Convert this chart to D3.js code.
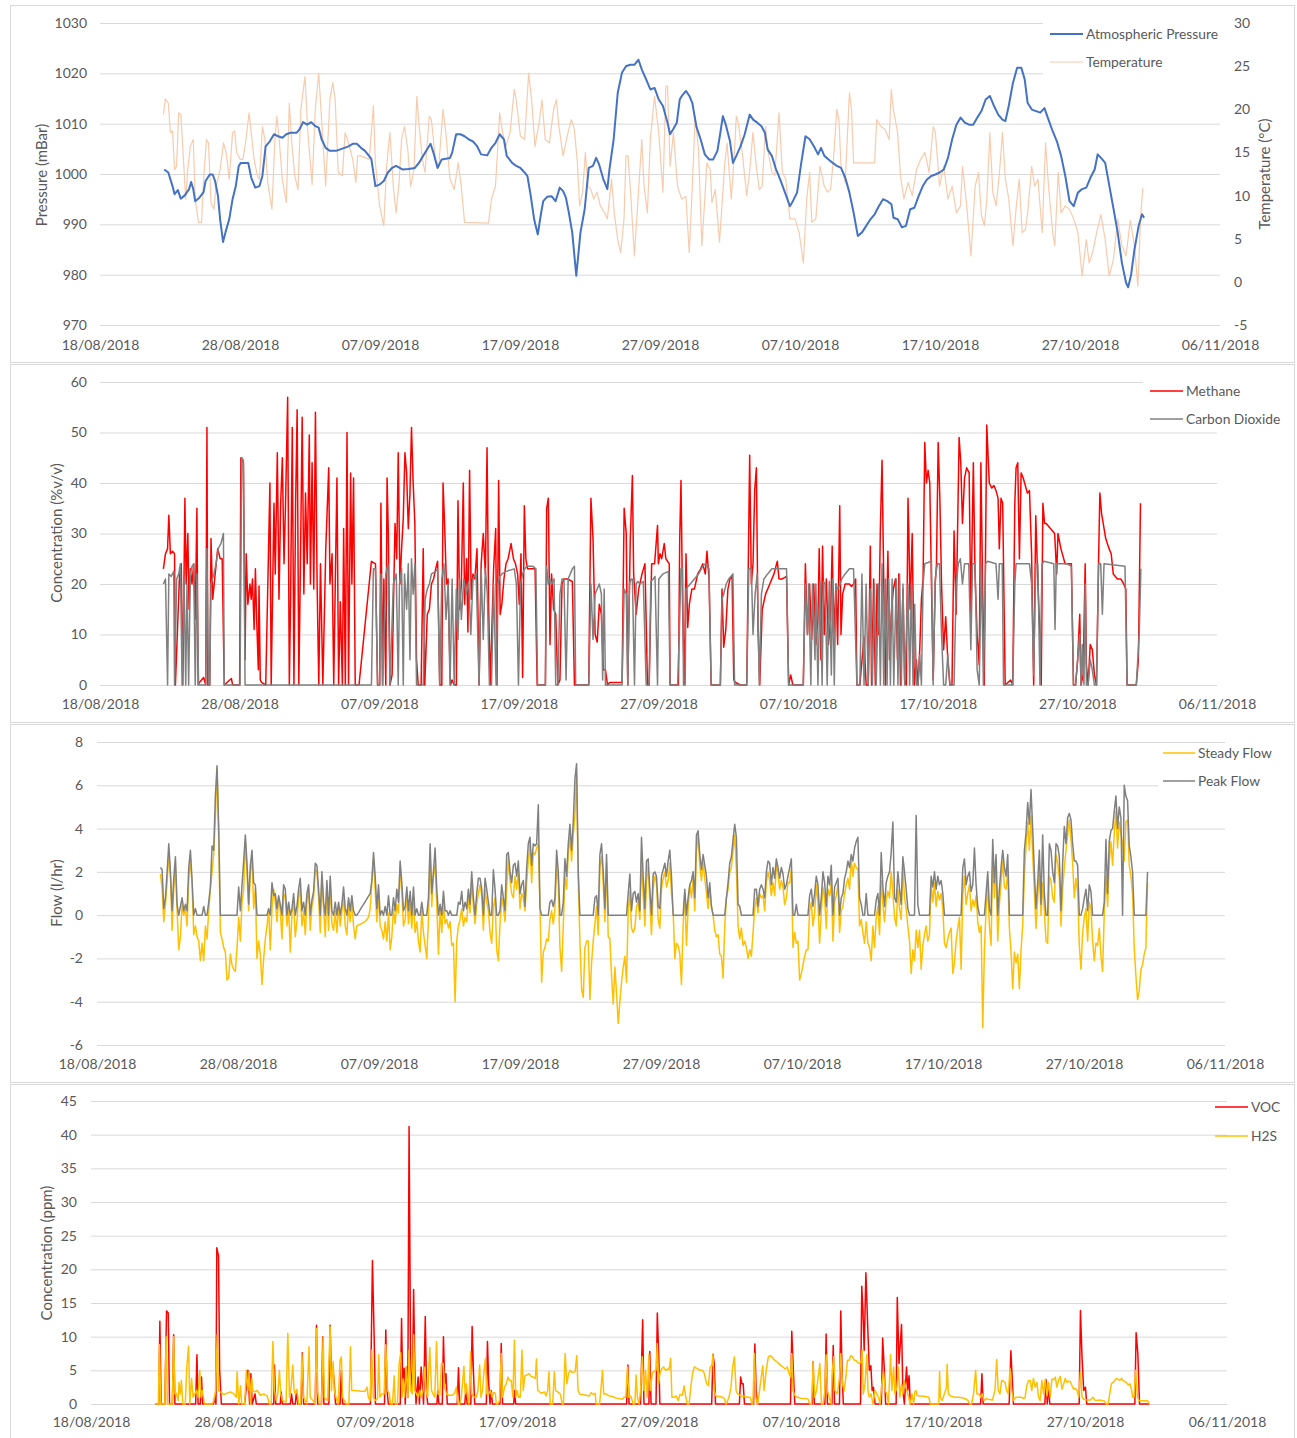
<!DOCTYPE html>
<html>
<head>
<meta charset="utf-8">
<title>Ground gas monitoring, 22/08/2018 to 01/11/2018</title>
<script src="https://cdn.jsdelivr.net/npm/d3@7"></script>
<style>
  body { margin: 0; background: #ffffff; }
  svg text { font-family: Lato, "Open Sans", "Liberation Sans", sans-serif; fill: #595959; }
</style>
</head>
<body>
<svg id="chart" width="1297" height="1438"></svg>
<script>
// Time is stored as days after 18/08/2018 00:00.
const DAY0 = Date.UTC(2018, 7, 18);
const dateTicks = [0, 10, 20, 30, 40, 50, 60, 70, 80];

// ---- Panel 1: atmospheric pressure (mBar) and temperature (°C) ----
const pressureTicks = [970, 980, 990, 1000, 1010, 1020, 1030];
const temperatureTicks = [-5, 0, 5, 10, 15, 20, 25, 30];
const pressure = [
[4.59,1000.9],[4.88,1000.3],[5.18,997.6],[5.33,996],[5.56,996.8],[5.77,995.1],[6.07,995.8],[6.36,997],[6.51,998.4],[6.66,997],[6.80,994.6],[7.10,995.3],[7.40,996.4],[7.54,998.6],[7.84,999.9],[8.05,999.9],[8.22,998.6],[8.43,995.6],[8.58,991],[8.79,986.5],[9.02,989],[9.23,991],[9.47,995],[9.70,997.6],[9.91,1001.6],[10.06,1002.2],[10.59,1002.2],[10.80,999.3],[11.09,997.3],[11.39,997.6],[11.60,999.6],[11.83,1005.5],[12.13,1006.5],[12.43,1007.9],[12.72,1007.5],[13.02,1007.2],[13.31,1007.9],[13.61,1008.2],[14.05,1008.2],[14.26,1008.9],[14.50,1010.3],[14.79,1009.8],[15.09,1010.3],[15.38,1009.5],[15.62,1009.2],[15.83,1006.9],[16.12,1005.2],[16.42,1004.6],[16.86,1004.6],[17.16,1004.9],[17.46,1005.2],[17.75,1005.5],[18.05,1006],[18.34,1006],[18.64,1005.2],[18.93,1004.6],[19.38,1003],[19.67,997.6],[19.97,997.9],[20.27,998.6],[20.56,1000.3],[20.86,1001.2],[21.15,1001.6],[21.60,1000.9],[22.04,1001],[22.49,1001.2],[22.78,1002.2],[23.08,1003.6],[23.37,1004.9],[23.61,1006],[23.82,1004.2],[24.11,1001.2],[24.41,1002.9],[25.00,1003.2],[25.15,1004.2],[25.44,1007.9],[25.74,1007.9],[26.04,1007.5],[26.33,1006.9],[26.63,1006.5],[26.92,1005.6],[27.22,1003.9],[27.66,1003.7],[27.96,1005.2],[28.25,1006.2],[28.55,1007.9],[28.85,1006.9],[29.05,1003.6],[29.44,1002.2],[29.73,1001.6],[30.03,1001.2],[30.33,1000.3],[30.53,999.6],[30.77,995.6],[31.01,991],[31.27,988],[31.51,992.3],[31.66,994.6],[31.95,995.5],[32.25,995.6],[32.54,994.6],[32.84,997.3],[33.08,996.6],[33.28,995.3],[33.49,992.3],[33.73,988.4],[34.02,979.8],[34.32,988.4],[34.62,993],[34.91,1001.2],[35.21,1001.6],[35.44,1003.2],[35.65,1001.9],[35.95,999],[36.24,997],[36.39,1000.9],[36.69,1006.9],[36.98,1016.1],[37.28,1020.1],[37.57,1021.4],[37.87,1021.7],[38.17,1021.7],[38.46,1022.7],
[38.71,1020.7],[39.01,1018.8],[39.31,1016.8],[39.61,1017.1],[39.91,1014.8],[40.21,1013.5],[40.51,1010.5],[40.72,1007.9],[40.96,1009],[41.20,1010.2],[41.41,1014.8],[41.56,1015.5],[41.86,1016.5],[42.10,1015.5],[42.31,1014.1],[42.60,1009.4],[42.90,1006.9],[43.20,1003.9],[43.50,1002.9],[43.80,1002.9],[44.10,1004.6],[44.31,1008.2],[44.49,1011.5],[44.70,1009.8],[45.00,1006.5],[45.21,1002.2],[45.45,1003.6],[45.75,1005.5],[46.05,1007.9],[46.41,1011.8],[46.65,1010.8],[46.95,1010.2],[47.25,1009.5],[47.49,1008.2],[47.69,1004.9],[47.99,1003.6],[48.29,1000.9],[48.59,998.9],[48.89,996.6],[49.10,995],[49.28,993.6],[49.49,994.6],[49.79,996.3],[50.09,1002.2],[50.39,1007.5],[50.69,1006.9],[50.99,1005.5],[51.29,1003.9],[51.50,1005.2],[51.74,1003.6],[52.04,1002.9],[52.34,1002.2],[52.63,1001.6],[52.93,1001.2],[53.23,999.3],[53.53,996.3],[53.83,992.3],[54.13,987.7],[54.43,988.4],[54.73,989.7],[55.03,991],[55.33,992],[55.63,993.6],[55.93,995],[56.23,994.6],[56.53,994],[56.68,991.3],[56.98,991],[57.28,989.4],[57.57,989.7],[57.87,993],[58.17,993.3],[58.47,995.6],[58.77,997.6],[59.07,998.9],[59.37,999.6],[59.67,999.9],[59.97,1000.3],[60.27,1000.9],[60.57,1003.2],[60.87,1006.9],[61.17,1009.8],[61.47,1011.2],[61.77,1010.2],[62.07,1009.8],[62.37,1009.8],[62.66,1011.2],[62.96,1012.5],[63.26,1014.8],[63.56,1015.5],[63.86,1013.5],[64.16,1011.8],[64.46,1010.8],[64.67,1010.5],[64.91,1013.5],[65.21,1018.1],[65.51,1021.1],[65.81,1021.1],[66.05,1018.8],[66.26,1014.1],[66.56,1012.8],[66.86,1012.5],[67.16,1012.2],[67.46,1013.1],[67.75,1010.8],[68.05,1008.5],[68.35,1006.5],[68.65,1003.6],[68.95,999.6],[69.25,994.6],[69.55,993.6],[69.85,996.3],[70.15,997],[70.45,997.3],[70.75,999.3],[71.05,1000.9],[71.26,1003.9],[71.50,1003.2],[71.80,1002.2],[72.10,997.6],[72.40,993],[72.69,988.4],[72.99,982.4],[73.29,978.4],[73.44,977.5],[73.65,980],[73.89,985],[74.19,989.7],[74.43,992],[74.58,991.3]
];
const temperature = [
[4.53,19.4],[4.67,21.2],[4.88,20.7],[5.03,17.3],[5.18,17.5],[5.33,13],[5.47,13.4],[5.62,19.6],[5.77,19.4],[5.92,15.4],[6.12,9.6],[6.27,13],[6.45,15.7],[6.66,16.5],[6.80,9.6],[7.04,6.9],[7.25,6.9],[7.40,11.9],[7.60,16.5],[7.75,16.1],[7.93,9.2],[8.14,8.4],[8.28,11.1],[8.43,11.9],[8.58,13],[8.82,16.1],[9.02,14.9],[9.23,11.9],[9.47,17.3],[9.62,17.5],[9.76,15],[10.00,14.2],[10.21,14.2],[10.41,16.3],[10.65,19.6],[10.80,17.3],[11.01,14.2],[11.24,12.3],[11.39,11.9],[11.60,18],[11.78,16.5],[11.98,11.5],[12.28,8.4],[12.49,16.5],[12.63,19.2],[12.78,16.9],[13.02,11.9],[13.31,9.2],[13.52,20.7],[13.70,16.1],[13.91,12.3],[14.14,10.7],[14.35,20],[14.64,23.8],[14.85,17.3],[15.15,11.3],[15.38,20],[15.62,24.2],[15.83,18.8],[16.12,11.1],[16.42,21.1],[16.63,23.1],[16.80,21.1],[17.01,12.7],[17.31,12.3],[17.51,17.3],[17.75,16.1],[18.05,14.2],[18.28,11.5],[18.40,14.6],[18.64,14.6],[19.23,14.2],[19.53,20.4],[19.67,13.8],[19.97,8.8],[20.27,6.5],[20.47,13.4],[20.71,17.3],[20.95,11.1],[21.15,8],[21.36,11.5],[21.54,16.5],[21.75,18],[21.98,15.4],[22.19,11.1],[22.43,13],[22.63,21.5],[22.78,18.4],[23.02,14.2],[23.22,12.7],[23.52,19.2],[23.67,18.8],[23.96,14.2],[24.20,13.4],[24.50,20],[24.70,17.3],[25.00,11.9],[25.30,10.7],[25.59,13.8],[25.80,11.1],[26.04,6.9],[27.75,6.8],[27.96,9.6],[28.25,11.1],[28.55,19.6],[28.76,17.3],[28.99,15.7],[29.29,17.3],[29.59,22.3],[29.73,21.1],[30.03,16.9],[30.33,16.5],[30.62,24.2],[30.83,21.1],[31.07,15.7],[31.36,18.4],[31.57,21.1],[31.80,16.5],[32.10,16.1],[32.40,20],[32.60,21.1],[32.78,18],[33.08,14.6],[33.43,17.3],[33.67,18.8],[33.88,17.7],[34.08,14.2],[34.26,8.8],[34.47,10.4],[34.67,15],[34.85,11.1],[35.06,10.7],[35.27,9.6],[35.50,10.4],[35.74,8.8],[36.04,8],[36.24,7.3],[36.39,9.6],[36.54,11.9],[36.75,7.7],[36.98,4.9],[37.19,3.4],[37.43,7.3],[37.57,14.6],[37.72,14.6],[37.93,9.6],[38.17,3],[38.40,8.8],[38.70,16.5],[38.86,11.1],[39.10,8],[39.31,16.5],[39.61,21.5],[39.91,17.3],[40.21,10.4],[40.42,22.7],[40.54,22.7],[40.72,13.4],[40.96,17.3],[41.25,11.1],[41.55,9.6],[41.85,9.9],[42.09,3.4],[42.30,10.7],[42.51,19.2],[42.75,15.4],[42.99,4.2],[43.20,9.6],[43.35,13.8],[43.59,13],[43.71,9.2],[43.95,10.7],[44.25,4.6],[44.49,10.4],[44.61,13.4],[44.79,16.1],[45.09,9.6],[45.30,14.6],[45.45,19.2],[45.60,18.4],[45.90,14.6],[46.19,10],[46.40,12.7],[46.64,17.3],[46.88,13.4],[47.09,10.7],[47.30,11.1],[47.54,18],[47.69,15.4],[47.99,12.7],[48.20,12.3],[48.50,19.6],[48.74,12.7],[48.98,11.9],[49.28,7.3],[49.64,7.3],[49.94,5.7],[50.24,2.2],[50.48,9.6],[50.69,12.7],[50.84,6.9],[51.13,7.3],[51.43,13.4],[51.73,11.1],[51.97,10.4],[52.18,10.7],[52.39,14.2],[52.63,20],[52.78,18.8],[52.93,13.4],[53.23,11.5],[53.53,21.9],[53.68,20],[53.83,13.8],[55.33,13.8],[55.48,18.8],[55.78,18],[56.07,17.7],[56.37,16.5],[56.52,22.3],[56.67,20],[56.97,17.3],[57.18,12.3],[57.42,9.6],[57.72,11.5],[58.02,10],[58.32,13],[58.62,14.2],[58.92,15],[59.22,12.7],[59.52,18],[59.67,17.3],[59.97,11.1],[60.27,13.4],[60.57,9.6],[60.87,11.1],[61.17,8],[61.46,8.8],[61.61,13.4],[61.91,8.8],[62.21,3],[62.51,11.1],[62.75,12.7],[62.96,7.7],[63.17,6.5],[63.35,9.6],[63.56,17.3],[63.77,10.4],[64.01,8.8],[64.25,12.7],[64.46,17.3],[64.67,11.9],[64.91,9.6],[65.21,4.2],[65.45,8.8],[65.66,11.9],[65.87,5.7],[66.11,6.1],[66.26,8],[66.55,13.4],[66.76,11.1],[67.00,11.9],[67.30,5.7],[67.54,16.1],[67.75,11.1],[68.05,5.7],[68.20,4.2],[68.44,12.7],[68.65,8],[68.95,8.8],[69.25,8.4],[69.55,7.3],[69.85,5.7],[70.15,0.7],[70.45,4.9],[70.66,2.2],[70.90,3.4],[71.19,5.7],[71.49,7.8],[71.79,5],[72.09,0.7],[72.39,2.6],[72.69,7.3],[72.99,4.2],[73.29,3],[73.59,7.1],[73.89,4.2],[74.13,-0.5],[74.34,7.8],[74.49,10.9]
];

// ---- Panel 2: methane and carbon dioxide (%v/v) ----
const gasTicks = [0, 10, 20, 30, 40, 50, 60];
const methane = [
[4.54,23],[4.69,26],[4.84,27],[4.93,33.6],[5.04,26],[5.19,26.5],[5.34,26],[5.40,0],[5.70,22],[5.82,24],[5.93,0],[6.08,37],[6.17,20],[6.29,30],[6.38,15],[6.47,23],[6.59,20],[6.71,24],[6.82,13],[6.94,35],[7.03,0],[7.12,0.5],[7.42,1.5],[7.57,0],[7.66,51],[7.72,0],[7.86,0],[7.95,29],[8.07,17],[8.25,22],[8.43,27],[8.61,25],[8.75,25],[8.90,0],[9.41,1.3],[9.5,0],[10.0,0],[10.09,45],[10.27,44],[10.39,5],[10.47,26],[10.59,16],[10.74,20],[10.83,17],[10.92,21],[11.04,11],[11.13,23],[11.22,13],[11.34,3],[11.39,19.6],[11.48,1],[11.57,0.5],[11.87,0],[12.17,40],[12.26,0],[12.46,36],[12.55,22],[12.70,46],[12.82,17],[12.94,36],[13.06,45],[13.18,24],[13.29,36],[13.44,57],[13.56,0],[13.65,17],[13.77,51],[13.89,0],[14.01,36],[14.12,54.5],[14.24,0],[14.36,25],[14.48,53],[14.60,18],[14.72,38],[14.84,24],[14.99,49.5],[15.07,20],[15.19,44],[15.31,19],[15.43,54],[15.55,20],[15.67,0],[15.79,24],[15.96,0],[16.17,27],[16.38,43],[16.47,20],[16.62,26],[16.74,0],[16.85,20],[16.97,41],[17.09,0],[17.21,16.5],[17.36,0],[17.45,31],[17.57,0],[17.69,50],[17.80,0],[17.95,42],[18.04,20],[18.16,41],[18.28,0],[18.55,0],[19.44,24.5],[19.73,24],[19.88,0],[20.03,0],[20.12,36],[20.24,0],[20.33,21],[20.47,0],[20.56,41],[20.65,30],[20.77,0],[20.92,2],[21.13,32],[21.25,25],[21.36,46],[21.48,20],[21.60,27],[21.72,33],[21.84,46],[21.96,42],[22.08,31],[22.20,38],[22.31,51],[22.43,40],[22.55,32],[22.67,5],[22.79,0],[23.00,0],[23.15,27],[23.26,0],[23.44,14],[23.59,15],[23.74,20],[23.89,21],[24.04,23],[24.18,24.5],[24.33,0],[24.48,0],[24.57,40],[24.69,31],[24.81,20],[24.93,21],[25.01,10],[25.10,0],[25.22,1],[25.37,0],[25.52,0],[25.64,36.5],[25.76,15],[25.88,20],[26.02,40],[26.11,16],[26.26,25],[26.35,10.5],[26.47,42.5],[26.59,17],[26.71,22],[26.85,21],[27.00,27],[27.15,0],[27.30,24],[27.45,30],[27.60,22],[27.72,47],[27.83,16],[27.95,0],[28.19,23],[28.34,31],[28.43,0],[28.55,40.5],[28.66,14],[28.78,16],[28.93,21],[29.08,24],[29.23,25],[29.44,28],[29.61,25],[29.76,24],[29.91,22],[30.03,16],[30.15,26],[30.27,1.5],[30.39,35.5],[30.50,25],[30.62,23],[31.16,23],[31.31,0],[31.9,0],[31.99,35],[32.11,37],[32.23,8],[32.34,22],[32.49,15],[32.64,14],[32.79,0],[32.94,1],[33.09,20],[33.23,21],[33.47,21],[33.83,20.5],[33.98,0],[35.0,0],[35.16,37],[35.31,29],[35.46,10],[35.61,8.5],[35.76,16],[35.91,14],[36.05,3],[36.20,3],[36.35,0],[36.50,0.5],[37.39,0.5],[37.54,35],[37.69,30],[37.80,0],[37.98,29],[38.13,41.5],[38.22,22],[38.40,14],[38.58,19],
[38.82,22],[39.03,24],[39.21,0],[39.33,0],[39.51,24],[39.72,24],[39.93,31.6],[39.99,24],[40.11,26],[40.23,25],[40.41,28],[40.53,25],[40.77,24],[40.83,0],[41.43,0],[41.52,29],[41.61,40.5],[41.73,15],[41.85,0],[41.97,26],[42.09,11.4],[42.21,16],[42.39,19],[42.57,19],[42.81,22],[43.02,23],[43.17,24],[43.35,22],[43.47,26.5],[43.62,21],[43.77,0],[44.43,0],[44.55,19],[44.67,7.5],[44.82,11],[44.97,19],[45.12,21],[45.27,21.5],[45.39,1],[45.51,0.5],[45.87,0],[46.32,0],[46.53,45.5],[46.65,20],[46.77,24],[46.89,38.5],[47.01,43],[47.13,11],[47.25,0],[47.43,15],[47.67,18],[47.97,20],[48.27,22],[48.51,24.5],[48.63,21],[48.87,21],[49.17,21.5],[49.32,0],[49.47,2],[49.62,0],[50.37,0],[50.52,24],[50.67,10],[50.82,20],[50.97,9],[51.12,20],[51.27,8],[51.42,13],[51.51,27],[51.63,5],[51.75,27.5],[51.87,10],[52.02,21],[52.17,8],[52.32,13],[52.44,27.5],[52.56,10],[52.71,20],[52.83,8],[52.98,35.5],[53.07,10],[53.19,18],[53.37,20],[53.67,20],[53.82,19.5],[53.97,20],[54.12,21],[54.21,0],[54.42,0],[54.72,9.5],[54.87,0],[55.02,0],[55.17,27.5],[55.26,0],[55.41,21],[55.53,0],[55.65,20],[55.77,10],[55.89,31],[56.01,44.5],[56.13,21],[56.25,0],[56.43,26.5],[56.55,5],[56.67,14],[56.82,19],[56.97,21],[57.12,5],[57.21,22],[57.33,0],[57.51,19],[57.63,1],[57.75,0],[57.87,37],[57.93,30],[58.02,15],[58.17,30],[58.32,0],[58.47,5],[58.59,0],[58.71,7],[58.83,17],[58.95,21],[59.07,48],[59.19,40],[59.31,42.5],[59.43,40],[59.55,20],[59.67,1],[59.82,20],[59.91,24],[60.03,48],[60.15,37],[60.27,20],[60.42,7],[60.57,13.5],[60.72,5],[60.87,0],[61.02,0],[61.17,30.5],[61.32,14],[61.53,49],[61.65,44],[61.77,32],[61.92,41],[62.07,43],[62.25,42],[62.37,14],[62.55,44],[62.67,22],[62.82,10],[62.97,4],[63.09,44],[63.21,20],[63.33,0],[63.51,51.5],[63.69,40],[63.87,39],[64.02,39.5],[64.17,38.5],[64.32,37],[64.41,27],[64.53,37],[64.65,36],[64.71,24],[64.83,0],[65.22,1],[65.37,0],[65.52,36],[65.61,43],[65.73,44],[65.85,25],[65.97,42],[66.12,41],[66.27,39.5],[66.42,38],[66.57,38.5],[66.72,26],[66.87,0],[67.02,33.5],[67.17,20],[67.32,10],[67.41,0],[67.53,36],[67.65,32],[67.77,32],[68.07,31],[68.37,30],[68.52,22],[68.61,30],[68.82,27],[69.12,24],[69.57,24],[69.72,0],[69.87,0],[70.02,5],[70.17,14],[70.26,0],[70.41,2],[70.56,24],[70.65,4],[70.77,0],[70.92,8],[71.07,7],[71.22,2],[71.37,0],[71.52,25],[71.61,38],[71.73,34],[71.85,32],[72.03,29],[72.27,27],[72.42,26],[72.57,22],[72.87,21],[73.11,21],[73.32,20],[73.47,19],[73.56,0],[74.22,0],[74.37,5],[74.52,36]
];
const carbonDioxide = [
[4.54,20],[4.69,21],[4.84,0],[4.93,22],[5.10,21.5],[5.28,22.5],[5.34,0],[5.49,21],[5.64,22],[5.76,24],[5.88,0],[6.02,21],[6.14,0],[6.23,20],[6.35,0],[6.47,22],[6.59,23.5],[6.71,24],[6.82,0],[6.94,22],[7.06,0],[7.57,0],[7.66,27],[7.77,0],[7.86,0],[7.95,20],[8.16,22],[8.31,24],[8.46,27],[8.66,28],[8.84,30],[8.90,0],[10.03,0],[10.15,45],[10.27,44.5],[10.39,0],[19.44,0],[19.58,23],[19.73,23],[19.88,0],[20.03,0],[20.12,22],[20.24,0],[20.47,22],[20.62,24],[20.77,0],[21.01,20],[21.22,22],[21.36,0],[21.45,20],[21.60,23],[21.72,0],[21.81,22],[21.96,15],[22.08,24],[22.20,5],[22.31,25],[22.43,18],[22.55,24],[22.67,0],[23.15,0],[23.29,17],[23.44,19],[23.59,20],[23.74,22],[24.04,22.5],[24.18,23],[24.33,0],[24.48,21],[24.63,24],[24.78,13],[24.93,20],[25.07,0],[25.22,21],[25.37,0],[25.52,19],[25.64,9],[25.76,21],[25.88,13],[26.05,21],[26.23,18],[26.41,20.5],[26.56,10],[26.71,21],[26.94,22],[27.15,0],[27.30,23],[27.45,9],[27.60,23],[27.74,18],[27.89,0],[28.04,0],[28.19,20],[28.37,0],[28.49,20],[28.63,21.5],[28.78,22],[29.08,22.5],[29.67,23],[29.82,20],[29.97,0],[30.12,20],[30.27,22],[30.42,23],[30.56,23.5],[31.01,23.5],[31.22,23],[31.34,0],[31.90,0],[31.99,23.5],[32.11,20],[32.23,21],[32.34,20],[32.52,21],[32.64,0],[32.79,0],[32.94,18],[33.09,21],[33.23,21],[33.38,1],[33.53,21],[33.68,22],[33.83,23],[33.98,23.5],[34.07,0],[35.01,0],[35.16,20],[35.31,9],[35.46,18],[35.61,19],[35.76,20],[35.91,18],[36.00,1],[36.11,19],[36.20,0],[37.39,0],[37.54,19],[37.69,18],[37.80,0],[37.92,20],[38.04,21],[38.13,21],[38.28,0],[38.40,20],[38.52,20.5],
[38.67,20],[38.91,20.5],[39.12,0],[39.33,0],[39.45,20.5],[39.63,21],[39.75,21.5],[39.93,0],[40.02,21],[40.17,21.5],[40.32,22],[40.71,22.5],[40.83,0],[41.37,0],[41.49,10],[41.61,23],[41.73,23],[41.79,0],[41.91,0],[41.97,19],[42.12,19.5],[42.27,20],[42.57,21],[42.87,22],[43.17,23.5],[43.35,24],[43.47,23.5],[43.62,23],[43.77,0],[44.43,0],[44.55,17],[44.67,18],[44.85,20],[45.03,21],[45.33,22],[45.45,0],[46.32,0],[46.47,23],[46.65,23],[46.77,10],[46.92,18],[47.07,22],[47.22,0],[47.37,18],[47.55,21],[47.82,22],[48.12,23],[49.17,23],[49.32,0],[50.37,0],[50.52,20],[50.67,10],[50.76,20],[50.91,0],[51.03,20],[51.21,5],[51.27,20],[51.42,0],[51.57,20.5],[51.72,0],[51.81,20.5],[51.93,20],[52.08,0],[52.23,20.5],[52.38,2],[52.47,21],[52.59,0],[52.71,20],[52.83,19],[53.01,20],[53.13,21],[53.37,22],[53.67,23],[53.97,23],[54.21,0],[54.42,0],[54.57,22],[54.72,0],[54.87,20],[55.02,0],[55.17,19],[55.32,0],[55.47,20],[55.59,0],[55.77,20],[55.89,0],[56.01,24],[56.13,0],[56.25,21],[56.37,0],[56.49,21],[56.61,0],[56.73,21],[56.85,0],[57.03,21],[57.15,0],[57.27,22],[57.39,0],[57.51,20],[57.63,0],[57.87,20],[57.99,0],[58.11,20],[58.23,0],[58.35,16],[58.47,0],[58.59,0],[58.71,6],[58.83,0],[58.95,20],[59.07,24],[59.55,24.5],[59.67,0],[59.82,21],[59.97,24],[60.12,24],[60.27,10],[60.42,0],[60.57,0],[60.72,6],[60.87,0],[61.17,0],[61.32,20],[61.47,24],[61.62,25],[61.77,20],[61.92,24],[62.22,24],[62.37,7],[62.49,24],[62.67,24],[62.82,3],[62.97,0],[63.12,24],[63.27,0],[63.42,24],[63.57,24.5],[64.17,24],[64.32,17],[64.41,24],[64.62,24],[64.71,0],[65.37,0],[65.52,20],[65.61,24],[66.57,24],[66.72,20],[66.87,2],[67.02,24],[67.17,24],[67.32,0],[67.47,24],[67.62,24.5],[68.31,24],[68.40,11],[68.49,24],[69.27,24],[69.57,23.5],[69.72,0],[69.87,0],[70.02,5],[70.17,10],[70.26,0],[70.35,8],[70.47,0],[70.56,20],[70.65,0],[70.77,0],[70.92,5],[71.07,3],[71.22,0],[71.37,0],[71.52,24],[71.67,24],[71.79,14],[71.91,24],[73.41,23.5],[73.56,0],[74.22,0],[74.43,10],[74.55,23]
];

// ---- Panel 3: steady and peak flow (l/hr), logged every 170 minutes from 22/08/2018 12:00 ----
const flowTicks = [-6, -4, -2, 0, 2, 4, 6, 8];
const flowStartDay = 4.5;
const flowStepDays = 170 / 1440;
const steadyFlow = [
1.9,1.2,-0.3,0.5,1.5,2.8,1.8,-0.7,1.2,2.3,0.2,-1.6,-1,0.5,0,0.3,-0.5,1.6,2.6,1.4,-0.9,-0.5,-1,-1.2,-2.1,-1.3,-2.1,-0.5,-1.1,0.2,
1.2,2,2.8,4.5,6.8,3.5,-0.8,-1.1,-1.5,-1.7,-3,-2.9,-1.8,-2.3,-2.5,-2.6,-1.5,-0.1,-1.2,0.6,1.2,3.4,2,0.2,2,2.6,0.3,1.2,-2,-1.2,
-1.8,-3.2,-2,-1.1,-0.5,0.2,-1.6,0.3,1.2,0.6,-0.3,0.8,0.2,-1.1,1,0.8,-0.5,0.3,-1.7,0.1,0.6,-1,-0.3,0.8,1.2,-0.5,0.2,-0.9,0.6,1.2,
-0.7,0.4,0.8,2.1,2,0.8,-0.8,1.8,0.3,-1,1.2,-0.7,1.5,-0.4,-0.7,0.2,-0.8,0.4,-0.5,0.2,0.8,-0.5,-0.9,0.4,-0.3,0.6,-0.5,
-1.1,-0.5,-0.45,-0.42,-0.38,-0.35,-0.28,-0.2,-0.1,0.3,1.5,2.6,
1.2,-0.3,1,-0.5,-0.7,-1.1,-0.3,-1.2,0.1,-1.6,-1,0.3,-0.4,0.5,0.1,2.3,1,-0.5,-0.2,1,-0.4,0.5,-0.6,0.6,-0.8,-0.3,-1.2,-1.7,0.2,-0.8,
-1.4,-2,-0.2,2.8,0.4,1.8,2.3,0.5,-1.8,0.3,-0.8,0.6,-0.4,-0.2,-0.6,-0.3,-1.4,-1.3,-4,-1.2,-0.5,-0.2,0.3,-0.5,-0.1,-0.3,0.8,0.1,1.6,0.4,
-0.4,0.5,1,1.4,0.9,-0.7,1.2,0.6,0.2,-0.8,-1.3,0.4,0.8,-1.6,-2.1,-0.4,0.8,0.4,-0.3,1.2,2.6,1.6,1,0.8,1.8,1.2,2,0.3,1,0.8,
0.2,1.5,2.5,3.3,1.5,2.9,2.8,3.1,3.3,
0.4,-3.1,-1.7,-1.5,-1.1,-1.2,-0.2,0.2,-0.4,0.3,2.3,1.5,-1.5,-2.6,-0.5,1.8,1.2,2.8,3.6,2.5,3.7,4.6,6.5,1.6,
-1.2,-3.4,-3.8,-1.5,-1.2,-1.2,-3.9,-2.2,-1.2,-0.4,0.4,-0.9,2.2,2.7,1.5,-0.3,2.4,-1,-1.1,-2.8,-4.1,-2.4,-3.6,-5,-4,-3.1,-2.4,-1.9,-3.1,0.2,
1.1,-0.6,-0.8,-0.6,0.4,0.6,-0.2,
2.5,0.9,-0.5,1.5,2.3,0.6,-0.9,1.2,1.8,1.5,-0.2,-0.6,1.2,1.7,2,1.3,1.6,2.4,1,0.2,-2,-1.3,-1.4,-1.8,-3.2,-0.5,1,-1.4,0.3,1.4,
0.8,1.7,0.2,2.9,3.7,2.3,1.6,2.4,1.7,1,0.3,1.2,0.4,0,-0.7,-1,-0.9,-1.8,-1.9,-2.9,-0.5,0.8,1.2,2,2.2,3,3.7,2.1,-0.5,-1.1,
-0.6,-1.4,-1.2,-1.5,-2,-1.6,-1.9,-0.8,0.3,0.8,0.1,1,0.8,0.9,0.2,1.5,2,1.6,0.9,1.5,0.9,2.3,1.9,1.2,1.6,1.3,0.5,0.8,1.5,1.5,
2.1,-1.5,-0.8,-1.3,-1.2,-3,-2.7,-2.3,-1.9,-1.6,-1.6,0.2,0.6,-0.5,0.1,1.4,0.6,-1.3,0.1,1.3,0.8,-0.6,1.2,0.9,1.5,-1.2,0.6,0.9,1.4,-0.8,
0.2,0.4,1,1.4,1.7,1.2,2.6,1.8,2.4,2.2,2.1,-0.5,-0.2,-0.8,-1.3,-0.3,-1.3,-1.5,-2.1,-0.5,-1.5,-0.1,0.4,-0.9,1.6,0.5,-0.3,0.7,1.1,0.8,
2,1,-0.1,-0.5,1.2,0.3,-0.2,2.2,0.8,0.3,-0.5,-1.2,-2.7,-1.6,-2.1,-0.7,-1.5,-0.7,-2.5,-1.4,-0.9,-0.5,-1.2,-0.9,1.4,0.6,1.5,0.4,1.1,0.7,
1,0.3,-1.3,-1.5,-1.1,-0.8,-0.6,-2.7,-2.2,-1.2,-0.6,-0.1,-2.5,0.9,1.8,0.5,1,1.4,0.2,0.7,0.4,0.9,-0.3,-0.8,-0.5,
-5.2,-1.6,0.3,1.3,-0.5,-1.4,2.8,0.8,2.3,-1.2,0.5,1.5,2.5,1.3,1.2,2,-0.6,-1.7,-3.4,-1.7,-2.2,-1.8,-3.4,-1.6,-0.5,1.8,3.2,4.3,3,4.6,
2.8,1.1,-0.6,0.8,2.1,0,1.5,0.2,-1.2,-1.3,1.8,1.6,0.8,0.6,2.8,2.4,1.7,-0.5,1.2,2.2,3,3.7,4.4,3.5,2.4,0.8,1.7,1.1,-1.4,-2.5,
-0.8,-0.1,0.3,-1.2,0.6,0.3,-1.2,-2.1,-1.3,-1.4,-0.6,-1.9,-2.6,0.1,1.8,0.4,2.5,3.4,2.3,3.8,4.8,3.1,4.3,3.8,3.3,2.5,4.3,4.4,2.3,1.8,
1,-1.5,-2.8,-3.9,-3.5,-2.5,-2.3,-1.8,-1.5,1.5
];
const peakFlow = [
2.2,2.1,0.3,0.8,2,3.3,2,0.2,1.7,2.7,0.5,0,0.4,0.8,0.2,0.5,0.2,2.2,3,1.6,0,0.3,0,0,0,0,0.4,0,0,0.6,
1.3,3.2,3,5.5,6.9,4,0,0,0,0,0,0,0,0,0,0,0,1.3,0.2,1.4,2.5,3.7,2.4,0.5,2.3,3,1.5,1.4,0,0,
0,0,0,0,0,0.3,0,1.5,0.9,1,0.3,0.9,0.5,0,1.4,1.2,0,0.6,0,0.3,1,0,0.4,1.2,1.7,0.2,0.6,0,1,1.4,
0,0.7,1.1,2.4,2.3,1.2,0,2,0.6,0,1.6,0,1.8,0.2,0,0.6,0,0.6,0,0.5,1.3,0.3,0,0.8,0.2,0.9,0.2,
0,0,0.12,0.25,0.38,0.5,0.62,0.75,0.88,1,1.6,2.9,
1.8,0.3,1.4,0,0.2,0,0.4,0,0.9,0,0,0.8,0.2,1.2,0.6,2.5,1.5,0.2,0.4,1.3,0.2,1.1,0,1.3,0,0.3,0,0,0.6,0,
0,0,0.8,3.3,1,2,3.1,1.2,0,0.5,0,1.1,0.2,0.2,0,0.2,0,0,0,0,0.6,0.5,1.1,0.2,0.6,0.3,1.2,0.5,2,0.8,
0,1,1.7,1.7,1.2,0,1.7,1.2,0.6,0,0,2.1,1.2,0,0,0.2,1.4,0.8,0.2,2.8,2.9,2,1.5,2.3,2.4,1.8,2.5,1,1.4,1.6,
0.4,2.2,3.3,3.6,2.3,3.3,3.2,3.3,5.1,
0.3,0,0,0,0,0,0.6,0.7,0.4,0.8,3,2,0,0,0.6,2.6,1.8,3.3,4.2,3,4.3,6.3,7,2,
0,0,0,0,0,0,0,0,0,0.8,0.9,0,2.8,3.3,2,0.3,2.8,0,0,0,0,0,0,0,0,0,0,0,0,1,
1.9,0.2,1,1.1,0.6,1,0.2,
3.6,1.8,0.3,2.5,2.6,1.2,0,1.9,2,1.8,0.4,0.3,1.8,2.1,2.4,1.8,2.5,3,1.8,0,0,0,0,0,0,0,1.2,0,0.8,1.4,
1.6,2,0.8,3.7,3.9,2.8,2.1,2.8,2.3,1.8,0.8,1.5,0.4,0,0,0,0,0,0,0,0,0.8,1.5,2.4,2.7,3.5,4.2,3.6,0.5,0.4,
0,0,0,0,0,0,0,0,1.2,1.2,0.4,1.2,1.4,1.2,0.8,2,2.5,2.4,1.4,2.2,1.7,2.6,2.2,1.7,2.2,1.9,1.2,1.4,1.8,2.2,
2.6,0,0,0.5,0,0,0,0,0,0,0,0.9,1.2,0.4,1,1.8,1.4,0,0.8,2,1.5,0.4,1.8,1.4,2.3,0,1.3,1.5,1.7,0,
0.8,1,1.7,2,2.5,2.2,2.8,2.5,3.1,3.4,3.6,0.8,0.5,0,0,1,0,0,0,0,0,0.7,1,0,2.9,1.3,0.4,1.5,1.8,2,
2.9,4.3,0.8,0.6,2,1.2,0.5,2.7,2,1.2,0.3,0,0,0,0,4.6,0.5,0,0,0,0,0,0,0,1.8,1.3,2,1.2,1.8,1.4,
1.6,1,0,0,0,0,0,0,0,0,0,0,0,2.2,2.6,1.4,1.8,2,1.1,1.4,3.1,1.4,0.4,0,0,
0,0,1,2,0.3,0,3.5,1.5,2.8,0,1.2,2.2,3,2.2,1.8,2.8,0,0,0,0,0,0,0,0,0,3,3.8,5.2,4.2,5.8,
4,2,0.3,1.5,3,0.5,3.7,1,0,0,3.3,3,2,1.5,3.3,3.2,2.7,0.2,2.4,4.1,3.3,4.5,4.7,4.4,3.3,2.5,2.5,2.3,0,0,
0.3,0.8,1.2,0.2,1.4,1.1,0,0,0,0,0,0,0,0.6,3.5,1,3.4,3.9,4,4.8,5.5,4,5,4.5,0,6,5.5,5.3,3.2,2.7,
2,0,0,0,0,0,0,0,0,2
];

// ---- Panel 4: VOC and H2S (ppm) ----
const ppmTicks = [0, 5, 10, 15, 20, 25, 30, 35, 40, 45];
const voc = [
[4.53,0],[4.77,0],[4.85,12.3],[4.94,0],[5.20,0],[5.32,13.8],[5.44,13.5],[5.53,0],[5.73,0],[5.82,10.3],[5.91,0],[7.37,0],[7.46,7.3],[7.54,0],[7.70,0],[7.78,4],[7.87,0],[8.63,0],[8.71,1],[8.80,0],[8.86,23.2],[8.98,22],[9.06,5],[9.18,0],[10.82,0],[11.05,5],[11.17,0],[11.26,4.5],[11.35,0],[11.55,1.5],[11.64,0],[12.87,0],[12.92,5.8],[13.01,0],[13.33,0],[13.39,1.8],[13.48,0],[14.04,0],[14.12,1.5],[14.21,0],[14.39,0],[14.47,2],[14.56,0],[14.80,0],[14.88,7.6],[14.97,0],[15.79,0],[15.88,11.7],[15.96,0],[16.23,0],[16.32,10],[16.40,0],[16.75,0],[16.84,11.7],[16.93,4],[17.05,5],[17.13,3.2],[17.22,0],[17.54,0],[17.63,5],[17.72,0],[19.68,0],[19.82,21.3],[19.94,10],[20.03,0],[20.67,0],[20.76,11],[20.85,2],[20.94,0],[21.78,0],[21.87,12.7],[21.96,2],[22.05,5.3],[22.13,0],[22.22,5.5],[22.31,1],[22.40,41.2],[22.51,5],[22.63,2],[22.72,17],[22.81,5],[22.89,0],[23.04,4],[23.13,0],[23.25,5.5],[23.33,3],[23.42,0],[23.54,13],[23.63,2],[23.71,0],[24.36,0],[24.42,2],[24.50,0],[24.74,0],[24.82,10],[24.91,3],[25.00,4.5],[25.09,0],[25.79,0],[25.88,5.4],[25.96,0],[26.32,0],[26.40,2],[26.49,0],[26.75,0],[26.84,11.5],[26.93,5],[27.02,0],[27.84,0],[27.92,9.3],[28.01,3],[28.10,0],[28.19,2],[28.27,0],[28.80,0],[28.89,9],[28.98,0],[29.77,0],[29.82,2],[29.91,0],[37.72,0],[37.81,5.8],[37.89,0],
[38.70,0],[38.85,12.5],[38.94,0],[39.29,0],[39.35,7.8],[39.44,0],[39.79,0],[39.88,13.5],[39.97,8],[40.06,0],[43.71,0],[43.80,7.4],[43.89,6],[43.98,0],[45.66,0],[45.75,4],[45.84,3],[45.93,3],[46.02,0],[46.66,0],[46.75,8.9],[46.84,2],[46.93,0],[49.26,0],[49.35,10.8],[49.44,6],[49.56,0],[50.79,0],[50.85,6.3],[50.94,0],[51.68,0],[51.77,10.4],[51.86,0],[52.18,0],[52.27,8.7],[52.36,0],[52.71,0],[52.80,13.8],[52.89,5],[52.98,0],[54.19,0],[54.28,17.5],[54.36,14],[54.45,8],[54.57,19.5],[54.69,12],[54.81,5],[54.92,5.7],[55.01,2],[55.10,2.5],[55.22,0],[55.66,0],[55.75,9.8],[55.87,5],[55.96,0],[56.70,0],[56.78,15.8],[56.90,6],[57.08,11.8],[57.17,2],[57.28,0],[57.43,5.5],[57.52,2],[57.61,4.2],[57.70,0],[62.65,0],[62.74,4.5],[62.83,0],[64.66,0],[64.78,7.9],[64.87,4],[64.96,0],[67.17,0],[67.26,3.6],[67.34,0],[67.43,2.7],[67.52,0],[69.59,0],[69.68,13.9],[69.79,7],[69.91,2],[70.03,2.5],[70.12,0],[73.51,0],[73.60,10.6],[73.72,7.5],[73.84,0],[74.54,0]
];
const h2s = [
[4.53,0],[4.74,0],[4.82,8.8],[4.91,0],[5.20,0],[5.29,10],[5.38,0],[5.73,0],[5.82,10],[5.91,1.5],[6.02,1.6],[6.14,0.5],[6.20,3.2],[6.29,1.5],[6.37,3.5],[6.46,0],[6.64,0],[6.75,5.6],[6.87,8.6],[6.96,0],[7.08,3.8],[7.19,1],[7.31,1.5],[7.43,2],[7.54,1],[7.66,5],[7.75,1],[7.84,2],[7.95,0.5],[8.01,0],[8.54,0],[8.65,0.5],[8.77,2],[8.89,10.3],[8.98,2],[9.12,1.8],[9.36,1.4],[9.59,1.6],[9.82,1.8],[10.06,1.5],[10.23,1],[10.29,4.8],[10.41,0],[10.53,2.7],[10.61,0],[10.82,0],[10.94,5],[11.05,2],[11.14,4.8],[11.23,0],[11.32,3.8],[11.40,2],[11.52,1.8],[11.70,2],[11.93,1.3],[12.16,1.5],[12.40,1.2],[12.57,0],[12.69,0],[12.81,9.3],[12.92,2],[13.04,0.5],[13.16,1.6],[13.27,5],[13.36,1.5],[13.48,0.5],[13.74,0.3],[13.86,10.5],[13.98,1],[14.09,2.5],[14.21,5.8],[14.30,2],[14.39,1.5],[14.50,2.2],[14.62,0],[14.77,0],[14.85,7.5],[14.97,1],[15.20,0],[15.35,8.5],[15.44,1],[15.64,0.5],[15.79,0],[15.88,11.2],[15.96,2],[16.08,0],[16.23,0],[16.35,10],[16.43,1],[16.67,0.5],[16.84,11.5],[16.93,2],[17.05,6.3],[17.13,2],[17.25,1],[17.40,0],[17.54,6.5],[17.63,7],[17.72,1],[17.84,0.5],[17.98,0],[18.16,0],[18.27,8.5],[18.36,2],[18.57,2],[19.01,1.9],[19.30,1.9],[19.44,2.5],[19.53,1],[19.65,0.5],[19.77,8],[19.88,1],[20.00,0.5],[20.18,0.8],[20.26,7.3],[20.35,1],[20.47,1.5],[20.64,1.5],[20.76,8.8],[20.88,2],[20.99,1.6],[21.11,0],[21.23,0],[21.35,4.2],[21.43,0],[21.58,0],[21.70,6],[21.81,7.6],[21.90,1],[21.99,3.7],[22.08,1],[22.19,5.5],[22.31,1],[22.40,8],[22.51,2],[22.63,1.5],[22.72,10.3],[22.81,2],[22.92,1.5],[23.04,1],[23.16,2],[23.27,1],[23.39,2],[23.51,5.5],[23.60,2],[23.71,1],[23.86,8.4],[23.98,2],[24.09,1.5],[24.21,1],[24.33,9.3],[24.44,1.5],[24.56,1.3],[24.68,6],[24.80,6],[24.91,2.5],[25.03,1.5],[25.20,1.3],[25.44,1.3],[25.61,1.6],[25.73,2.5],[25.85,0],[25.96,0],[26.08,1],[26.26,5.6],[26.35,1.5],[26.43,3],[26.52,1],[26.61,0],[26.73,7.8],[26.81,1.5],[26.96,1],[27.13,1],[27.25,2],[27.37,5.8],[27.46,1],[27.57,2],[27.66,4.5],[27.78,6.8],[27.87,1.5],[28.01,1.5],[28.13,2],[28.25,1],[28.36,1.7],[28.48,1.6],[28.54,0],[28.65,0],[28.77,0.5],[28.89,7.5],[28.98,1],[29.12,2.5],[29.24,3],[29.36,4],[29.47,3.5],[29.59,3.5],[29.71,1],[29.82,9.5],[29.91,1],[30.00,2],[30.12,1],[30.23,1],[30.35,8],[30.44,2],[30.56,4.2],[30.70,4.3],[30.85,4.5],[30.99,4.1],[31.14,4],[31.29,3.8],[31.37,6.7],[31.46,2],[31.58,1.8],[31.75,1.6],[31.93,1.8],[32.05,1.2],[32.16,2],[32.25,4.8],[32.34,0],[32.51,0],[32.63,4.8],[32.72,2],[32.87,1.8],[33.04,1.5],[33.19,0],[33.27,0],[33.39,7.5],[33.51,3],[33.63,4.5],[33.74,5],[33.86,4.7],[33.98,4.7],[34.09,4.8],[34.21,7.2],[34.30,2],[34.44,1.4],[34.62,1.4],[34.85,1.3],[35.09,1.2],[35.23,1.7],[35.38,1.4],[35.50,1.6],[35.58,0],[35.82,0],[36.02,5],[36.11,1.5],[36.26,1.5],[36.49,1.2],[36.73,1.1],[36.96,0.9],[37.19,0.8],[37.43,0.7],[37.54,1],[37.66,1],[37.78,5.5],[37.87,1],[38.01,1.2],[38.19,0],[38.30,0],[38.39,4.3],[38.48,1],[38.60,0],
[38.70,2],[38.82,7],[38.94,2],[39.05,5],[39.17,1],[39.29,7.4],[39.38,2],[39.53,4.6],[39.64,4.8],[39.79,5],[39.88,9],[39.97,3],[40.06,4.5],[40.18,5.2],[40.32,5.5],[40.47,5],[40.59,5.2],[40.71,5.1],[40.82,6.8],[40.91,1],[41.06,1],[41.21,1.2],[41.36,0.5],[41.47,1.4],[41.65,1.3],[41.77,2.7],[41.89,1],[42.00,0],[42.12,0],[42.24,2.5],[42.36,4.5],[42.48,5.5],[42.68,5.3],[42.89,5],[43.07,5],[43.18,4.6],[43.36,3],[43.48,2.7],[43.60,5.5],[43.72,5.7],[43.80,7.3],[43.89,2],[44.01,1.2],[44.25,1.1],[44.48,1],[44.60,0.8],[44.72,0],[44.84,0.5],[44.95,1.2],[45.07,2.5],[45.19,5.5],[45.31,7],[45.43,2],[45.54,1.5],[45.78,1.2],[46.02,1.1],[46.25,1],[46.43,1],[46.55,0],[46.61,0],[46.72,7.5],[46.81,1],[46.96,0],[47.08,2],[47.20,4],[47.31,5.7],[47.40,2],[47.55,5],[47.70,7],[47.85,7.2],[47.99,6.9],[48.14,6.5],[48.29,6.3],[48.44,6],[48.58,5.7],[48.73,5.5],[48.88,5.2],[49.03,5.5],[49.17,4.5],[49.26,4],[49.35,7.5],[49.44,2],[49.56,1.3],[49.76,1],[50.06,0.8],[50.35,0.8],[50.50,0.7],[50.62,0],[50.74,0],[50.80,2.2],[50.85,6.3],[50.97,1],[51.09,2],[51.21,4],[51.33,6],[51.44,0],[51.56,0],[51.68,2],[51.77,7.3],[51.86,2],[51.98,1],[52.12,0],[52.21,5],[52.30,7],[52.39,2],[52.57,1.5],[52.71,4],[52.80,7.5],[52.92,3],[53.04,2],[53.16,4],[53.27,6.5],[53.39,6.5],[53.51,7.2],[53.63,7],[53.75,6.5],[53.86,6.5],[53.98,6.2],[54.10,6],[54.22,6.2],[54.31,8],[54.39,1.5],[54.51,3],[54.63,7.3],[54.72,2],[54.81,1],[54.93,1.5],[55.07,0],[55.22,2],[55.34,1.5],[55.46,1],[55.57,0],[55.69,3],[55.81,4.8],[55.93,2],[56.05,1.5],[56.16,0],[56.31,7.3],[56.40,2],[56.52,5.5],[56.61,1.5],[56.75,2.5],[56.87,5.5],[56.96,1],[57.08,3],[57.17,1.5],[57.26,3.5],[57.37,2.5],[57.46,2],[57.58,1],[57.70,0],[57.82,1.5],[57.93,0],[58.02,1.8],[58.11,2],[58.17,1.3],[58.29,1.2],[58.47,1.2],[58.76,1.1],[59.00,1],[59.11,0],[59.70,0],[59.76,4.8],[59.82,1],[59.94,0.5],[60.24,2.4],[60.29,5.9],[60.38,1.5],[60.53,1.2],[60.83,1],[61.12,1],[61.42,0.9],[61.65,0.7],[61.77,0.5],[61.89,0],[62.01,0],[62.15,1.5],[62.30,5],[62.39,1.5],[62.54,1.5],[62.65,1],[62.77,1.5],[62.89,0.5],[63.04,0.8],[63.19,0.7],[63.48,0.6],[63.66,2],[63.78,6.6],[63.89,2],[64.01,1.5],[64.13,3.5],[64.25,3.4],[64.37,3.2],[64.48,2],[64.60,1.5],[64.72,5.3],[64.84,2],[64.96,0.5],[65.10,1],[65.55,1],[65.69,0.8],[65.78,1],[65.90,2.7],[66.02,3.5],[66.14,3.5],[66.25,2],[66.37,3.8],[66.49,2.5],[66.61,3.2],[66.73,1],[66.84,0.5],[66.96,3.5],[67.08,1.5],[67.20,3.7],[67.32,1.2],[67.43,3.2],[67.55,1],[67.67,3.7],[67.79,3.6],[67.91,4],[68.02,2.5],[68.14,3.6],[68.26,4.1],[68.38,2.2],[68.50,3],[68.61,3.8],[68.73,3.2],[68.85,3.4],[68.97,3.3],[69.09,2.7],[69.20,2.2],[69.32,2.3],[69.44,2],[69.56,1],[69.68,4.7],[69.79,1],[69.91,0.7],[70.15,0.6],[70.38,0.6],[70.56,1],[70.74,0.5],[71.03,0.6],[71.39,0.4],[71.50,0],[71.62,0],[71.74,1.5],[71.86,3],[71.98,3.2],[72.09,3.5],[72.21,3.8],[72.33,3.7],[72.45,3.5],[72.57,3.8],[72.68,3.5],[72.80,3.3],[72.92,3.2],[73.04,2.8],[73.16,3],[73.27,2.2],[73.36,1],[73.45,1],[73.57,5],[73.69,1],[73.81,0.5],[74.10,0.5],[74.40,0.5],[74.54,0]
];

// ---------------------------------------------------------------
const svg = d3.select('#chart');
const toDate = d => new Date(DAY0 + d * 864e5);
const fmtDate = d3.utcFormat('%d/%m/%Y');
const fmtNum = d => String(d);
const GRID = '#D9D9D9';
const TEXT = '#595959';

function styleAxisText(g, size) {
  g.attr('font-family', null).attr('font-size', null);
  g.selectAll('text').attr('fill', TEXT).style('font-size', size + 'px');
}

// One bordered chart: frame, horizontal gridlines, y labels, date labels.
function chartFrame(c) {
  svg.append('rect')
    .attr('x', c.box[0] + 0.5).attr('y', c.box[1] + 0.5)
    .attr('width', c.box[2]).attr('height', c.box[3])
    .attr('fill', '#fff').attr('stroke', GRID);

  const x = d3.scaleUtc().domain([toDate(0), toDate(80)]).range([c.x0, c.x1]);
  const y = d3.scaleLinear().domain(c.yDomain).range([c.y1, c.y0]);

  const gy = svg.append('g').attr('transform', `translate(${c.x0},0)`)
    .call(d3.axisLeft(y).tickValues(c.yTicks).tickFormat(fmtNum)
      .tickSize(-(c.x1 - c.x0)).tickSizeOuter(0).tickPadding(c.padY));
  gy.select('.domain').remove();
  gy.selectAll('line').attr('stroke', GRID).attr('stroke-width', 1);
  styleAxisText(gy, 14);

  const gx = svg.append('g').attr('transform', `translate(0,${c.y1})`)
    .call(d3.axisBottom(x).tickValues(dateTicks.map(toDate)).tickFormat(fmtDate).tickSize(0).tickPadding(c.padX));
  gx.select('.domain').remove();
  styleAxisText(gx, 14);

  svg.append('text')
    .attr('transform', `translate(${c.titleX},${c.titleY}) rotate(-90)`)
    .attr('text-anchor', 'middle').attr('dy', '0.35em')
    .style('font-size', '15px').text(c.title);

  return { x, y };
}

function legendBlock(items, lx0, lx1, ys, mask) {
  if (mask) {
    svg.append('rect').attr('x', mask[0]).attr('y', mask[1]).attr('width', mask[2]).attr('height', mask[3]).attr('fill', '#fff');
  }
  items.forEach((it, i) => {
    svg.append('line').attr('x1', lx0).attr('x2', lx1).attr('y1', ys[i]).attr('y2', ys[i])
      .attr('stroke', it.color).attr('stroke-width', it.width);
    svg.append('text').attr('x', lx1 + 3).attr('y', ys[i]).attr('dy', '0.35em')
      .style('font-size', '13.8px').text(it.name);
  });
}

function drawSeries(x, y, data, color, width) {
  const line = d3.line().x(d => x(toDate(d[0]))).y(d => y(d[1]));
  svg.append('path').datum(data)
    .attr('fill', 'none').attr('stroke', color).attr('stroke-width', width)
    .attr('stroke-linejoin', 'round').attr('d', line);
}

// ---- Panel 1 ----
{
  const c = chartFrame({ box: [10, 5, 1284, 357], x0: 100, x1: 1220, y0: 23, y1: 325,
    yDomain: [970, 1030], yTicks: pressureTicks, padY: 13, padX: 15,
    title: 'Pressure (mBar)', titleX: 42, titleY: 175 });
  const yT = d3.scaleLinear().domain([-5, 30]).range([325, 23]);
  const gr = svg.append('g').attr('transform', 'translate(1220,0)')
    .call(d3.axisRight(yT).tickValues(temperatureTicks).tickFormat(fmtNum).tickSize(0).tickPadding(14));
  gr.select('.domain').remove();
  styleAxisText(gr, 14);
  svg.append('text')
    .attr('transform', 'translate(1265,174) rotate(-90)')
    .attr('text-anchor', 'middle').attr('dy', '0.35em')
    .style('font-size', '15px').text('Temperature (°C)');
  legendBlock([{ name: 'Atmospheric Pressure', color: '#4472C4', width: 2 },
               { name: 'Temperature', color: '#F8CBAD', width: 1.2 }],
              1050, 1083, [34, 62], [1043, 12, 180, 78]);
  drawSeries(c.x, yT, temperature, '#F8CBAD', 1.2);
  drawSeries(c.x, c.y, pressure, '#4472C4', 2);
}

// ---- Panel 2 ----
{
  const c = chartFrame({ box: [10, 364, 1284, 358], x0: 100, x1: 1217, y0: 382, y1: 685,
    yDomain: [0, 60], yTicks: gasTicks, padY: 13, padX: 14,
    title: 'Concentration (%v/v)', titleX: 57, titleY: 533 });
  legendBlock([{ name: 'Methane', color: '#FF0000', width: 1.5 },
               { name: 'Carbon Dioxide', color: '#808080', width: 1.5 }],
              1150, 1183, [391, 419], [1143, 374, 76, 54]);
  drawSeries(c.x, c.y, methane, '#FF0000', 1.5);
  drawSeries(c.x, c.y, carbonDioxide, '#808080', 1.5);
}

// ---- Panel 3 ----
{
  const c = chartFrame({ box: [10, 724, 1284, 358], x0: 97, x1: 1225, y0: 742, y1: 1045,
    yDomain: [-6, 8], yTicks: flowTicks, padY: 14, padX: 14,
    title: 'Flow (l/hr)', titleX: 57, titleY: 893 });
  legendBlock([{ name: 'Steady Flow', color: '#FFC000', width: 1.5 },
               { name: 'Peak Flow', color: '#808080', width: 1.5 }],
              1163, 1195, [753, 781], [1158, 746, 70, 46]);
  const steady = steadyFlow.map((v, i) => [flowStartDay + i * flowStepDays, v]);
  const peak = peakFlow.map((v, i) => [flowStartDay + i * flowStepDays, v]);
  drawSeries(c.x, c.y, steady, '#FFC000', 1.5);
  drawSeries(c.x, c.y, peak, '#808080', 1.5);
}

// ---- Panel 4 ----
{
  const c = chartFrame({ box: [10, 1084, 1284, 360], x0: 91, x1: 1227, y0: 1101, y1: 1404,
    yDomain: [0, 45], yTicks: ppmTicks, padY: 14, padX: 13,
    title: 'Concentration (ppm)', titleX: 47, titleY: 1253 });
  legendBlock([{ name: 'VOC', color: '#FF0000', width: 1.5 },
               { name: 'H2S', color: '#FFC000', width: 1.5 }],
              1215, 1248, [1107, 1136], null);
  drawSeries(c.x, c.y, voc, '#FF0000', 1.5);
  drawSeries(c.x, c.y, h2s, '#FFC000', 1.5);
}
</script>
</body>
</html>
